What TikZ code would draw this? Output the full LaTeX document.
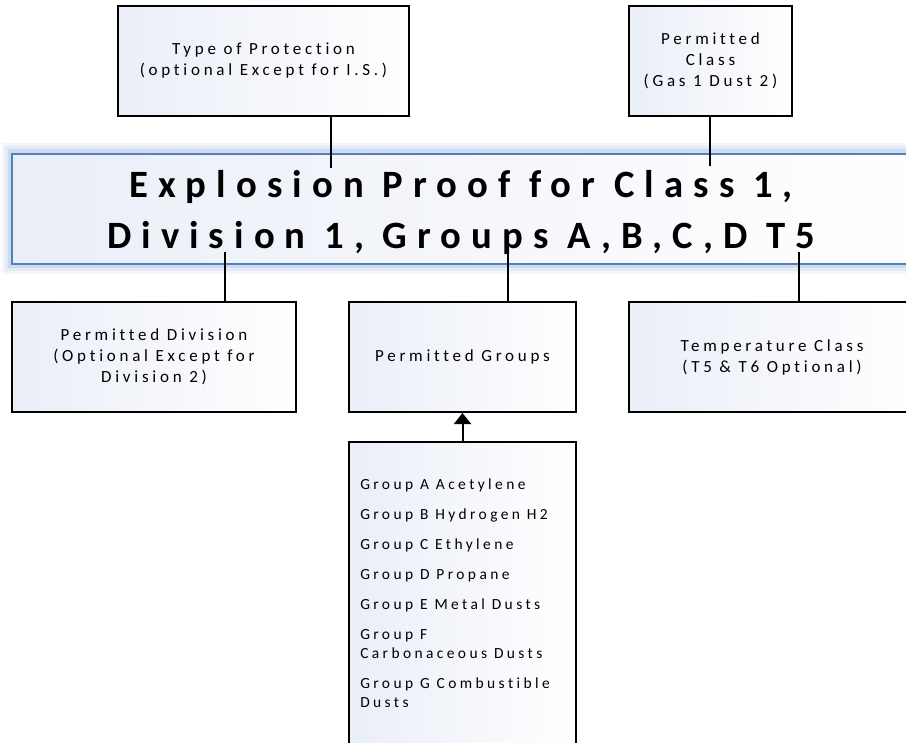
\documentclass[tikz,border=0pt]{standalone}
\usepackage{fontspec}
\setmainfont{Carlito}
\newfontfamily\labelfont[LetterSpace=22,Ligatures=NoCommon]{Carlito}
\newfontfamily\headfont[LetterSpace=26,Ligatures=NoCommon]{Carlito}
\usetikzlibrary{arrows.meta}
\definecolor{bandblue}{RGB}{79,129,189}
\definecolor{glowblue}{RGB}{150,178,222}
\definecolor{paleblue}{RGB}{234,238,247}
\begin{document}
\begin{tikzpicture}[x=0.75pt,y=-0.75pt,
  box/.style={draw=black, line width=1.5pt, left color=paleblue, right color=white,
    inner sep=0pt, align=center, font=\labelfont\fontsize{12.75}{15.75}\selectfont},
  link/.style={draw=black, line width=1.5pt},
  listtext/.style={font=\labelfont\fontsize{11.6}{14.25}\selectfont, align=left, inner sep=0pt}]
\useasboundingbox (0,0) rectangle (906,742);
\fill[white] (0,0) rectangle (906,742);

% soft blue glow round the title band
\foreach \w/\o in {13/0.12, 9/0.16, 5/0.25}
  \draw[glowblue, line width=\w pt, opacity=\o] (11,152) rectangle (935,265);

% title band
\node[draw=bandblue, line width=1.5pt, left color=paleblue, right color=white,
      minimum width=688.5pt, minimum height=82.5pt, inner sep=0pt] (band) at (471,209) {};
\node[anchor=base, align=center, inner sep=0pt,
      font=\headfont\bfseries\fontsize{29}{38.25}\selectfont] (title) at (461,248)
  {Explosion Proof for Class 1,\\ Division 1, Groups A,B,C,D T5};

% upper boxes
\node[box, minimum width=218.25pt, minimum height=82.5pt] (tp) at (263.5,61)
  {Type of Protection\\(optional Except for I.S.)};
\node[box, minimum width=122.25pt, minimum height=82.5pt] (pc) at (710.5,61)
  {Permitted\\Class\\(Gas 1 Dust 2)};

% lower boxes
\node[box, minimum width=213pt, minimum height=82.5pt] (pd) at (154,357)
  {Permitted Division\\(Optional Except for\\Division 2)};
\node[box, minimum width=170.25pt, minimum height=82.5pt] (pg) at (462.5,357)
  {Permitted Groups};
\node[box, minimum width=214.5pt, minimum height=82.5pt] (tc) at (772,357)
  {Temperature Class\\(T5 \& T6 Optional)};

% list of gas and dust groups
\node[box, minimum width=170.25pt, minimum height=246pt] (list) at (462.5,606) {};
\node[listtext, anchor=base west] (groups) at (360,707)
  {Group A Acetylene\\[8.25pt]
   Group B Hydrogen H2\\[8.25pt]
   Group C Ethylene\\[8.25pt]
   Group D Propane\\[8.25pt]
   Group E Metal Dusts\\[8.25pt]
   Group F\\Carbonaceous Dusts\\[8.25pt]
   Group G Combustible\\Dusts};

% connectors into the title band
\coordinate (tpend) at (331,168);
\coordinate (pcend) at (710,166);
\coordinate (pdstart) at (225,252);
\coordinate (pgstart) at (508,252);
\coordinate (tcstart) at (799,252);
\draw[link] (tp.south -| tpend) -- (tpend);
\draw[link] (pc.south -| pcend) -- (pcend);
\draw[link] (pdstart) -- (pdstart |- pd.north);
\draw[link] (pgstart) -- (pgstart |- pg.north);
\draw[link] (tcstart) -- (tcstart |- tc.north);
\draw[link, -{Triangle[width=12.75pt,length=8.25pt]}] (list.north) -- (pg.south);
\end{tikzpicture}
\end{document}
